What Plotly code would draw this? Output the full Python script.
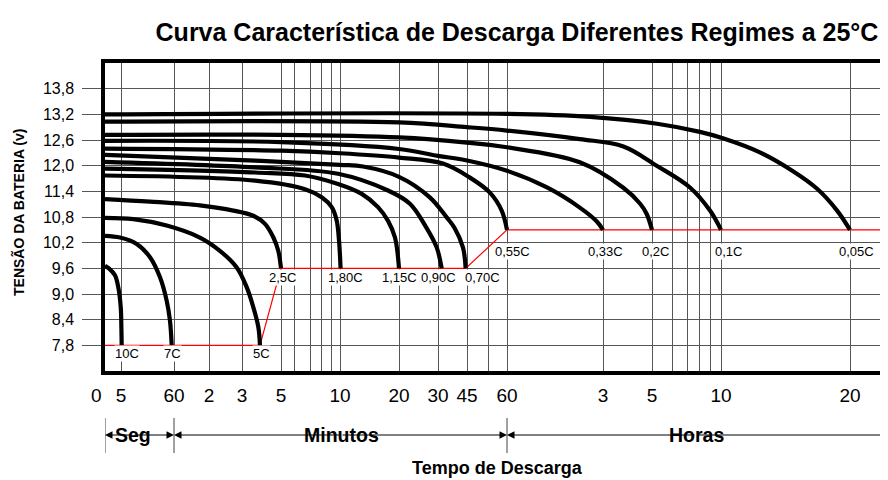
import numpy as np
import plotly.graph_objects as go

# ---------------- time scale of the chart ----------------
# graduations of the discharge-time axis (minutes) and their place on the axis
SCALE_MIN = [0, 5/60, 1, 2, 3, 5, 6, 7, 8, 9, 10, 20, 30, 45, 50, 60,
             180, 300, 360, 420, 480, 540, 600, 1200]
SCALE_POS = [0, 16, 69, 104, 137, 176, 189, 205, 216, 226, 235, 294, 333, 362, 383, 402,
             498, 547, 567, 582, 594, 605, 616, 745]
SCALE_LABEL = ["0", "5", "60", "2", "3", "5", "", "", "", "", "10", "20", "30", "45", "", "60",
               "3", "5", "", "", "", "", "10", "20"]
EDGE_POS = 781
X_MAX = 783

# ---------------- voltage axis ----------------
V_TICKS = [7.8, 8.4, 9.0, 9.6, 10.2, 10.8, 11.4, 12.0, 12.6, 13.2, 13.8]
V_LABELS = ["7,8", "8,4", "9,0", "9,6", "10,2", "10,8", "11,4", "12,0", "12,6", "13,2", "13,8"]

# ---------------- discharge curves (time in minutes, voltage in V) ----------------
RATES = ["10C", "7C", "5C", "2,5C", "1,80C", "1,15C", "0,90C", "0,70C",
         "0,55C", "0,33C", "0,2C", "0,1C", "0,05C"]

T_10C = [0, 0.02, 0.052, 0.069, 0.082, 0.09, 0.095]
V_10C = [9.66, 9.6, 9.44, 9.16, 8.69, 8.2, 7.8]

T_7C = [0, 0.078, 0.355, 0.585, 0.758, 0.874, 0.93, 0.96]
V_7C = [10.36, 10.32, 10.17, 9.86, 9.39, 8.84, 8.38, 7.8]

T_5C = [0, 0.296, 0.874, 1.74, 2.33, 2.84, 3.24, 3.58, 3.84, 3.92]
V_5C = [10.78, 10.75, 10.60, 10.32, 10.01, 9.62, 9.16, 8.69, 8.22, 7.8]

T_2_5C = [0, 0.585, 1.74, 2.74, 3.58, 4.18, 4.61, 4.86, 5.0]
V_2_5C = [11.22, 11.16, 11.07, 10.95, 10.83, 10.64, 10.32, 10.01, 9.6]

T_1_80C = [0, 3.67, 6.69, 8.07, 9.08, 9.63, 9.89, 10.1]
V_1_80C = [11.77, 11.65, 11.45, 11.26, 11.03, 10.72, 10.25, 9.6]

T_1_15C = [0, 3.67, 6.69, 9.78, 13.68, 16.44, 18.14, 19.32, 20]
V_1_15C = [11.93, 11.84, 11.77, 11.57, 11.34, 11.03, 10.71, 10.32, 9.6]

T_0_90C = [0, 3.67, 9.78, 18.14, 22.8, 26.9, 29.66, 31.9]
V_0_90C = [12.09, 11.96, 11.81, 11.42, 11.11, 10.57, 10.09, 9.6]

T_0_70C = [0, 3.67, 10, 13.9, 20, 27.9, 34.5, 38.5, 42.9, 44.3]
V_0_70C = [12.25, 12.12, 12.02, 11.98, 11.74, 11.26, 10.79, 10.55, 10.09, 9.6]

T_0_55C = [0, 5, 10, 20, 32.6, 45.7, 51, 57.2, 60]
V_0_55C = [12.4, 12.35, 12.29, 12.19, 12.05, 11.72, 11.37, 10.95, 10.5]

T_0_33C = [0, 5, 20, 30, 45, 60, 110, 151, 172, 180]
V_0_33C = [12.58, 12.55, 12.39, 12.23, 12.12, 11.88, 11.49, 11.02, 10.7, 10.5]

T_0_2C = [0, 5, 20, 45, 60, 151, 229, 271, 287, 300]
V_0_2C = [12.72, 12.72, 12.66, 12.54, 12.43, 12.08, 11.49, 11.11, 10.87, 10.5]

T_0_1C = [0, 20, 45, 60, 151, 230, 314, 435, 540, 600]
V_0_1C = [13.03, 13.01, 12.9, 12.82, 12.62, 12.45, 12.0, 11.49, 10.95, 10.5]

T_0_05C = [0, 60, 164, 315, 485, 609, 781, 935, 1047, 1140, 1200]
V_0_05C = [13.2, 13.21, 13.14, 12.98, 12.79, 12.64, 12.31, 11.87, 11.46, 10.95, 10.5]

CURVES = [(T_10C, V_10C), (T_7C, V_7C), (T_5C, V_5C), (T_2_5C, V_2_5C),
          (T_1_80C, V_1_80C), (T_1_15C, V_1_15C), (T_0_90C, V_0_90C), (T_0_70C, V_0_70C),
          (T_0_55C, V_0_55C), (T_0_33C, V_0_33C), (T_0_2C, V_0_2C), (T_0_1C, V_0_1C),
          (T_0_05C, V_0_05C)]

# label placement (pixels, relative to the end of each curve)
LABEL_DX = [5, 1, 2, 1, 4.5, 0, -3, 17, 5, 2, 3, 7, 6]
LABEL_DY = [-8.5, -8.5, -8.5, -9, -9, -9, -9, -9, -22, -22, -22, -22, -22]

FONT = "Liberation Sans, Arial, Helvetica, sans-serif"

# page geometry (the html body adds an 8 px offset)
OFF = 8
PLOT_L, PLOT_R, PLOT_T, PLOT_B = 105, 888, 63, 371


def px_x(x):
    return (x - PLOT_L) / (PLOT_R - PLOT_L)


def px_y(y):
    return (PLOT_B - y) / (PLOT_B - PLOT_T)


def pos(t):
    return np.interp(np.asarray(t, dtype=float), SCALE_MIN, SCALE_POS)


fig = go.Figure()

# red end-of-discharge line through the ends of the curves
ends = [(pos(T[-1]).item(), V[-1]) for T, V in CURVES]
red_x = [0, ends[2][0], ends[3][0], ends[7][0], ends[8][0], X_MAX]
red_y = [ends[2][1], ends[2][1], ends[3][1], ends[7][1], ends[8][1], ends[8][1]]
fig.add_trace(go.Scatter(x=red_x, y=red_y, mode="lines",
                         line=dict(color="#ff0000", width=1.2), hoverinfo="skip",
                         showlegend=False))

for (T, V), name in zip(CURVES, RATES):
    fig.add_trace(go.Scatter(x=pos(T), y=V, mode="lines", name=name,
                             line=dict(color="black", width=4.2, shape="spline", smoothing=1.0),
                             showlegend=False))

annotations = []
for (x_end, v_end), name, dx, dy in zip(ends, RATES, LABEL_DX, LABEL_DY):
    annotations.append(dict(x=x_end, y=v_end, xref="x", yref="y", text=name, showarrow=False,
                            xshift=dx, yshift=dy, font=dict(family=FONT, size=13, color="black"),
                            bgcolor="white", borderpad=0, xanchor="center", yanchor="middle"))

# axis titles
annotations.append(dict(x=px_x(497), y=px_y(468), xref="paper", yref="paper",
                        text="<b>Tempo de Descarga</b>", showarrow=False,
                        font=dict(family=FONT, size=18, color="black"),
                        xanchor="center", yanchor="middle"))
annotations.append(dict(x=px_x(18), y=px_y(213), xref="paper", yref="paper",
                        text="<b>TENSÃO DA BATERIA (v)</b>", showarrow=False, textangle=-90,
                        font=dict(family=FONT, size=14, color="black"),
                        xanchor="center", yanchor="middle"))

# "0" label of the time axis (sits left of the axis origin)
annotations.append(dict(x=0, y=0, xref="x", yref="paper", text="0", showarrow=False,
                        xshift=-8.3, yshift=-24, xanchor="center", yanchor="middle",
                        font=dict(family=FONT, size=19, color="black")))

# time-unit bands below the axis
BAND_Y = px_y(435)
bands = [("Seg", 0, 69, 28), ("Minutos", 69, 402, 236), ("Horas", 402, X_MAX, 591)]
for text, x0, x1, xc in bands:
    annotations.append(dict(x=xc, y=BAND_Y, xref="x", yref="paper", text="<b>%s</b>" % text,
                            showarrow=False, font=dict(family=FONT, size=19.5, color="black"),
                            bgcolor="white", borderpad=3, xanchor="center", yanchor="middle"))
    for head in (x0, x1):
        annotations.append(dict(x=head, y=BAND_Y, xref="x", yref="paper", ax=xc, ay=0,
                                axref="x", ayref="pixel", text="", showarrow=True,
                                arrowhead=2, arrowsize=1.5, arrowwidth=1, arrowcolor="black",
                                standoff=0, startstandoff=0))

shapes = []
for xv in (0, 69, 402):
    shapes.append(dict(type="line", xref="x", yref="paper", x0=xv, x1=xv,
                       y0=px_y(418), y1=px_y(453), line=dict(color="#444", width=1)))

x_tickvals = SCALE_POS[1:] + [EDGE_POS]
x_ticktext = SCALE_LABEL[1:] + [""]

fig.update_layout(
    width=888 - OFF, height=480 - OFF,
    margin=dict(l=PLOT_L - OFF, r=0, t=PLOT_T - OFF, b=480 - PLOT_B),
    paper_bgcolor="white", plot_bgcolor="white",
    title=dict(text="<b>Curva Característica de Descarga Diferentes Regimes a 25°C</b>",
               x=(517 - OFF) / (888 - OFF), xanchor="center",
               y=1 - (32 - OFF) / (480 - OFF), yanchor="middle",
               font=dict(family=FONT, size=25, color="black")),
    xaxis=dict(range=[0, X_MAX], tickmode="array", tickvals=x_tickvals, ticktext=x_ticktext,
               showgrid=True, gridcolor="#555", gridwidth=1, zeroline=False,
               showline=True, linecolor="black", linewidth=3.5, mirror=True,
               ticks="", ticklabelstandoff=4,
               tickfont=dict(family=FONT, size=19, color="black")),
    yaxis=dict(range=[7.2, 14.4], tickmode="array", tickvals=V_TICKS, ticktext=V_LABELS,
               showgrid=True, gridcolor="#555", gridwidth=1, zeroline=False,
               showline=True, linecolor="black", linewidth=3.5,
               ticks="outside", ticklen=19, tickcolor="#555", tickwidth=1,
               ticklabelstandoff=5,
               tickfont=dict(family=FONT, size=16, color="black")),
    annotations=annotations, shapes=shapes,
)

fig.write_html("out.html")
